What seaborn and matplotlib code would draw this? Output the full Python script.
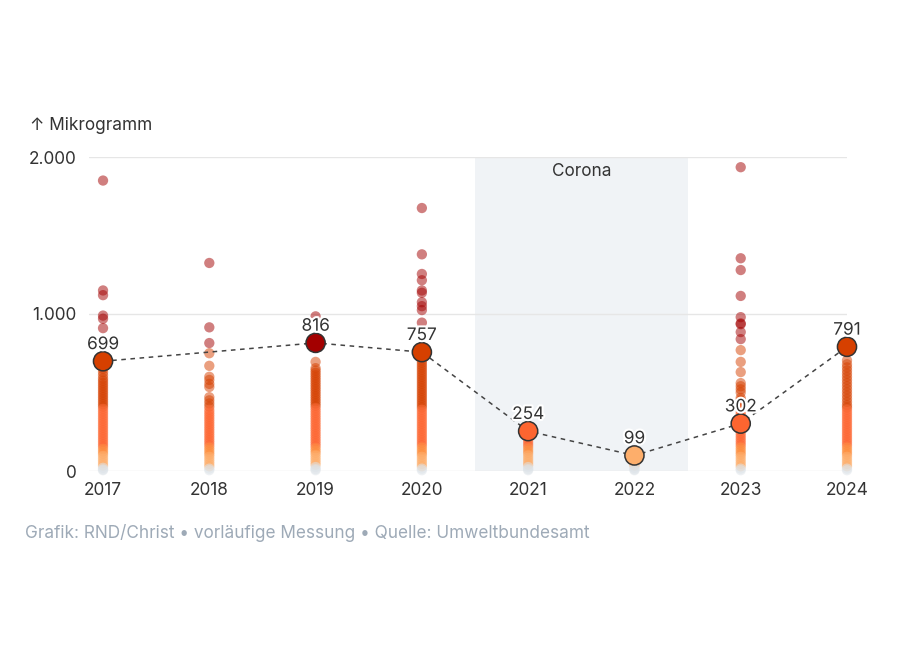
import pandas as pd
import matplotlib.pyplot as plt
import matplotlib.patheffects as pe
import seaborn as sns

# --- 1. Data ---
years = [2017, 2018, 2019, 2020, 2021, 2022, 2023, 2024]

v2017 = [1850, 1150, 1120, 990, 970, 910, 650, 630, 610, 590, 575, 560, 545, 530,
         515, 500, 485, 470, 455, 440, 425, 410, 395, 380, 365, 350, 335, 320, 305,
         290, 275, 260, 245, 230, 215, 200, 185, 170, 155, 140, 125, 110, 95, 80,
         65, 50, 35, 20, 10, 5]
v2018 = [1325, 915, 815, 750, 670, 600, 580, 555, 535, 470, 450, 430, 410, 390,
         375, 360, 345, 330, 315, 300, 285, 270, 255, 240, 225, 210, 195, 180, 165,
         150, 135, 120, 105, 90, 75, 60, 45, 30, 15, 5]
v2019 = [985, 695, 655, 640, 625, 610, 595, 580, 565, 550, 535, 520, 505, 490, 475,
         460, 445, 430, 415, 400, 385, 370, 355, 340, 325, 310, 295, 280, 265, 250,
         235, 220, 205, 190, 175, 160, 145, 130, 115, 100, 85, 70, 55, 40, 25, 12, 5]
v2020 = [1675, 1380, 1255, 1215, 1150, 1135, 1075, 1050, 1025, 945, 705, 690, 675,
         660, 645, 630, 615, 600, 585, 570, 555, 540, 525, 510, 495, 480, 465, 450,
         435, 420, 405, 390, 375, 360, 345, 330, 315, 300, 285, 270, 255, 240, 225,
         210, 195, 180, 165, 150, 135, 120, 105, 90, 75, 60, 45, 30, 15, 5]
v2021 = [235, 220, 205, 190, 175, 160, 145, 130, 115, 100, 85, 70, 55, 40, 25, 12, 5]
v2022 = [90, 70, 50, 35, 20, 10, 5]
v2023 = [1935, 1355, 1280, 1115, 980, 940, 935, 885, 840, 770, 695, 630, 560, 540,
         520, 500, 465, 450, 435, 420, 405, 390, 375, 360, 345, 330, 315, 300, 285,
         270, 255, 240, 225, 210, 195, 180, 165, 150, 135, 120, 105, 90, 75, 60, 45,
         30, 15, 5]
v2024 = [705, 680, 660, 640, 620, 600, 580, 560, 540, 520, 500, 480, 460, 440, 420,
         405, 390, 375, 360, 345, 330, 315, 300, 285, 270, 255, 240, 225, 210, 195,
         180, 165, 150, 135, 120, 105, 90, 75, 60, 45, 30, 15, 5]
all_values = [v2017, v2018, v2019, v2020, v2021, v2022, v2023, v2024]

# median per year (2018 has none)
med_years = [2017, 2019, 2020, 2021, 2022, 2023, 2024]
med_values = [699, 816, 757, 254, 99, 302, 791]

y_ticks = [0, 1000, 2000]
y_tick_labels = ["0", "1.000", "2.000"]

# --- 2. Colour bins ---
bin_edges = [-1, 25, 100, 150, 400, 800, 5000]
bin_names = ["b0", "b1", "b2", "b3", "b4", "b5"]
bin_colors = {"b0": "#dde3e8", "b1": "#fdae6b", "b2": "#fd8d3c",
              "b3": "#fd6530", "b4": "#d64000", "b5": "#a30000"}

rows = []
for yr, vals in zip(years, all_values):
    for v in vals:
        rows.append({"year": yr, "value": v})
df = pd.DataFrame(rows)
df["bin"] = pd.cut(df["value"], bins=bin_edges, labels=bin_names).astype(str)

df_med = pd.DataFrame({"year": med_years, "value": med_values})
df_med["bin"] = pd.cut(df_med["value"], bins=bin_edges, labels=bin_names).astype(str)

# --- 3. Plot ---
sns.set_style("white")
plt.rcParams['font.family'] = ['Inter', 'DejaVu Sans']
fs = 12.4

fig = plt.figure(figsize=(9, 6.5), dpi=100)
ax = fig.add_axes([89 / 900, 1 - 471 / 650, (847 - 89) / 900, (471 - 157) / 650])

ax.axvspan(2020.5, 2022.5, color="#f0f3f6", zorder=0, lw=0)
ax.text(2021.5, 1910, "Corona", ha="center", va="center", fontsize=fs, color="#333333")

for yv in y_ticks:
    ax.axhline(yv, color="#e6e6e6", lw=1, zorder=0.5)

sns.scatterplot(data=df, x="year", y="value", hue="bin", palette=bin_colors,
                s=55, alpha=0.5, linewidth=0, legend=False, ax=ax, zorder=2,
                clip_on=False)

sns.lineplot(data=df_med, x="year", y="value", color="#444444", lw=1.1,
             linestyle=(0, (3, 3)), ax=ax, zorder=3)
sns.scatterplot(data=df_med, x="year", y="value", hue="bin", palette=bin_colors,
                s=190, edgecolor="#333333", linewidth=1.1, legend=False, ax=ax,
                zorder=4, clip_on=False)

for yr, v in zip(med_years, med_values):
    ax.annotate(str(v), (yr, v), xytext=(0, 12), textcoords="offset points",
                ha="center", va="center", fontsize=fs, color="#333333", zorder=5,
                path_effects=[pe.withStroke(linewidth=3, foreground="white")])

ax.set_xlim(2016.868, 2024.0)
ax.set_ylim(0, 2000)
ax.set_xticks(years)
ax.set_xticklabels([str(y) for y in years])
ax.set_yticks(y_ticks)
ax.set_yticklabels(y_tick_labels)
ax.tick_params(axis="both", length=0, labelsize=fs, labelcolor="#333333")
ax.tick_params(axis="x", pad=8)
ax.tick_params(axis="y", pad=9)
ax.set_xlabel("")
ax.set_ylabel("")
for sp in ax.spines.values():
    sp.set_visible(False)

fig.text(30 / 900, 1 - 126 / 650, "↑ Mikrogramm", fontsize=fs, color="#333333",
         va="center", ha="left")
fig.text(25 / 900, 1 - 533 / 650,
         "Grafik: RND/Christ • vorläufige Messung • Quelle: Umweltbundesamt",
         fontsize=fs, color="#9eaab7", va="center", ha="left")

plt.savefig("out.png", dpi=100)
